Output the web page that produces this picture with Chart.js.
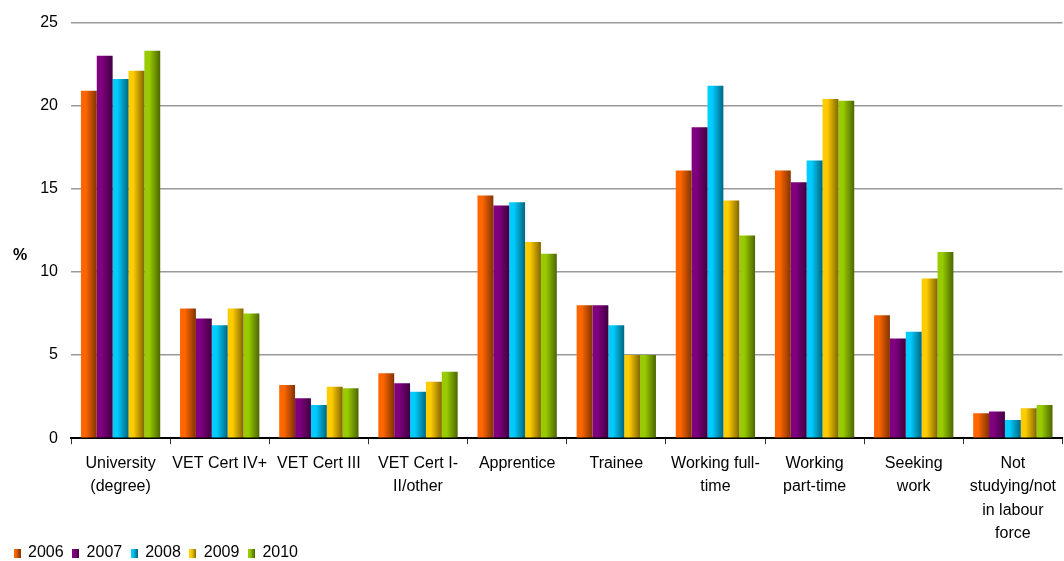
<!DOCTYPE html>
<html>
<head>
<meta charset="utf-8">
<script src="https://cdn.jsdelivr.net/npm/chart.js@4/dist/chart.umd.min.js"></script>
<style>
  html, body { margin: 0; padding: 0; background: #fff; }
  #wrap { position: relative; width: 1064px; height: 561px; overflow: hidden; }
</style>
</head>
<body>
<div id="wrap"><canvas id="chart"></canvas></div>
<script>
// categories and survey values (% of respondents)
const categories = [
  ["University", "(degree)"],
  ["VET Cert IV+"],
  ["VET Cert III"],
  ["VET Cert I-", "II/other"],
  ["Apprentice"],
  ["Trainee"],
  ["Working full-", "time"],
  ["Working", "part-time"],
  ["Seeking", "work"],
  ["Not", "studying/not", "in labour", "force"]
];
const years = ["2006", "2007", "2008", "2009", "2010"];

const values2006 = [20.9, 7.8, 3.2, 3.9, 14.6, 8.0, 16.1, 16.1, 7.4, 1.5];
const values2007 = [23.0, 7.2, 2.4, 3.3, 14.0, 8.0, 18.7, 15.4, 6.0, 1.6];
const values2008 = [21.6, 6.8, 2.0, 2.8, 14.2, 6.8, 21.2, 16.7, 6.4, 1.1];
const values2009 = [22.1, 7.8, 3.1, 3.4, 11.8, 5.0, 14.3, 20.4, 9.6, 1.8];
const values2010 = [23.3, 7.5, 3.0, 4.0, 11.1, 5.0, 12.2, 20.3, 11.2, 2.0];

const yTicks = [0, 5, 10, 15, 20, 25];

// bar shading: bright on the left edge, darker on the right
const lightColors = ["#ff6600", "#800080", "#00ccff", "#ffcc00", "#99cc00"];
const darkColors  = ["#803300", "#400040", "#006680", "#806600", "#4c6600"];

function legendSwatch(i) {
  const c = document.createElement("canvas");
  c.width = 7; c.height = 9;
  const g = c.getContext("2d");
  const grad = g.createLinearGradient(0, 0, 7, 0);
  grad.addColorStop(0, lightColors[i]);
  grad.addColorStop(0.3, lightColors[i]);
  grad.addColorStop(1, darkColors[i]);
  g.fillStyle = grad;
  g.fillRect(0, 0, 7, 9);
  return c;
}

const shadeBars = {
  id: "shadeBars",
  beforeDatasetsDraw(chart) {
    const ctx = chart.ctx;
    chart.data.datasets.forEach((ds, i) => {
      chart.getDatasetMeta(i).data.forEach(bar => {
        const { x, width } = bar.getProps(["x", "width"], true);
        const grad = ctx.createLinearGradient(x - width / 2, 0, x + width / 2, 0);
        grad.addColorStop(0, lightColors[i]);
        grad.addColorStop(0.3, lightColors[i]);
        grad.addColorStop(1, darkColors[i]);
        bar.options = Object.assign({}, bar.options, { backgroundColor: grad });
      });
    });
  }
};

// nudge the legend row a little to the right and up
const legendShift = {
  id: "legendShift",
  afterLayout(chart) {
    chart.legend.left += 5;
    chart.legend.right += 5;
    chart.legend.top -= 2;
    chart.legend.bottom -= 2;
  }
};

// "%" unit label, horizontal, left of the value axis
const unitLabel = {
  id: "unitLabel",
  afterDraw(chart) {
    const { ctx, chartArea } = chart;
    ctx.save();
    ctx.font = "bold 16px 'Liberation Sans', Arial, sans-serif";
    ctx.fillStyle = "#000";
    ctx.textAlign = "center";
    ctx.textBaseline = "middle";
    ctx.fillText("%", 20, chartArea.top + (chartArea.bottom - chartArea.top) * 0.56);
    ctx.restore();
  }
};

const series = [values2006, values2007, values2008, values2009, values2010];

Chart.defaults.font.family = "'Liberation Sans', Arial, sans-serif";
Chart.defaults.color = "#000";

new Chart(document.getElementById("chart"), {
  type: "bar",
  data: {
    labels: categories,
    datasets: years.map((y, i) => ({
      label: y,
      data: series[i],
      backgroundColor: lightColors[i],
      borderWidth: 0,
      barPercentage: 1.0,
      categoryPercentage: 0.8
    }))
  },
  options: {
    responsive: true,
    maintainAspectRatio: false,
    animation: false,
    layout: { padding: { top: 14, right: 0, left: 0, bottom: -12 } },
    plugins: {
      tooltip: { enabled: false },
      legend: {
        position: "bottom",
        align: "start",
        labels: {
          usePointStyle: true,
          generateLabels(chart) {
            return years.map((y, i) => ({
              text: y,
              datasetIndex: i,
              pointStyle: legendSwatch(i),
              fillStyle: lightColors[i],
              strokeStyle: lightColors[i],
              lineWidth: 0,
              fontColor: "#000"
            }));
          },
          pointStyleWidth: 6,
          boxHeight: 9,
          padding: 9,
          font: { size: 16 }
        }
      }
    },
    scales: {
      x: {
        grid: {
          drawOnChartArea: false,
          drawTicks: true,
          tickLength: 6,
          color: "#333",
          lineWidth: 1
        },
        border: { display: true, color: "#000", width: 2 },
        ticks: {
          font: { size: 16, lineHeight: 1.45 },
          maxRotation: 0,
          autoSkip: false,
          padding: 8
        },
        afterFit(axis) {
          axis.height -= 15;
        }
      },
      y: {
        min: 0,
        max: 25,
        afterBuildTicks(axis) {
          axis.ticks = yTicks.map(v => ({ value: v }));
        },
        afterFit(axis) {
          axis.width = 71;
        },
        grid: {
          color: "#9a9a9a",
          lineWidth: 1.5,
          drawTicks: false
        },
        border: { display: false },
        ticks: {
          font: { size: 16 },
          padding: 13
        }
      }
    }
  },
  plugins: [shadeBars, legendShift, unitLabel]
});
</script>
</body>
</html>
